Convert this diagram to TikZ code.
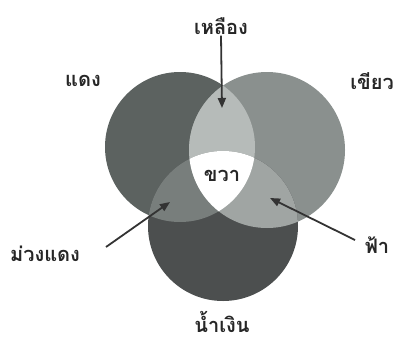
\documentclass[tikz,border=0pt]{standalone}
\usepackage{fontspec}
\newfontfamily\thaifont[Script=Thai]{Loma}
\usetikzlibrary{arrows.meta}
\definecolor{redgray}{RGB}{92,98,96}
\definecolor{greengray}{RGB}{138,144,142}
\definecolor{bluegray}{RGB}{76,79,79}
\definecolor{yellowgray}{RGB}{182,187,185}
\definecolor{magentagray}{RGB}{120,126,124}
\definecolor{cyangray}{RGB}{160,165,163}
\tikzset{
  lbl/.style={font=\thaifont\bfseries\fontsize{20}{20}\selectfont, text=black!85, inner sep=1pt},
  pointer/.style={-{Triangle[length=10pt,width=8pt]}, line width=1.8pt, draw=black!80}
}
\begin{document}
\begin{tikzpicture}[x=1pt,y=-1pt]
\useasboundingbox (0,0) rectangle (398,340);
\def\redc{(180,147) circle (75)}
\def\greenc{(267,150) circle (78)}
\def\bluec{(223,226) circle (75)}
% circles
\fill[redgray] \redc;
\fill[greengray] \greenc;
\fill[bluegray] \bluec;
% overlaps
\begin{scope}
  \clip \redc;
  \fill[yellowgray] \greenc;
  \fill[magentagray] \bluec;
\end{scope}
\begin{scope}
  \clip \greenc;
  \fill[cyangray] \bluec;
\end{scope}
\begin{scope}
  \clip \redc;
  \clip \greenc;
  \fill[white] \bluec;
\end{scope}
% labels
\node[lbl] (yellow) at (221,26) {เหลือง};
\node[lbl] (red) at (83,81) {แดง};
\node[lbl] (green) at (372,81) {เขียว};
\node[lbl] (white) at (222,176) {ขวา};
\node[lbl] (magenta) at (45,254) {ม่วงแดง};
\node[lbl] (cyan) at (377,245) {ฟ้า};
\node[lbl] (blue) at (222,322) {น้ำเงิน};
% arrows
\coordinate (ytip) at (222,108);
\coordinate (mtail) at (106,247);
\coordinate (mtip) at (170,202);
\coordinate (ctail) at (355,240);
\coordinate (ctip) at (270,198);
\draw[pointer] (yellow.south) -- (ytip);
\draw[pointer] (mtail) -- (mtip);
\draw[pointer] (ctail) -- (ctip);
\end{tikzpicture}
\end{document}
